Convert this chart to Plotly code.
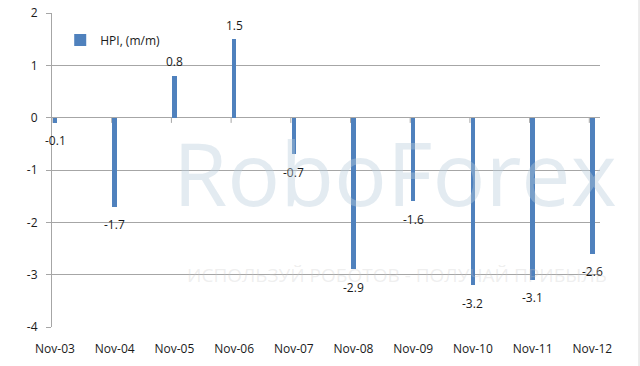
import plotly.graph_objects as go

categories = ["Nov-03", "Nov-04", "Nov-05", "Nov-06", "Nov-07",
              "Nov-08", "Nov-09", "Nov-10", "Nov-11", "Nov-12"]
hpi_values = [-0.1, -1.7, 0.8, 1.5, -0.7, -2.9, -1.6, -3.2, -3.1, -2.6]
y_ticks = [2, 1, 0, -1, -2, -3, -4]

idx = list(range(len(categories)))
BLUE = "#4F81BD"
GRID = "#A6A6A6"
FONT = "Open Sans, Liberation Sans, sans-serif"

fig = go.Figure()
fig.add_trace(go.Bar(
    x=idx, y=hpi_values, name="HPI, (m/m)",
    marker=dict(color=BLUE, line=dict(width=0)),
    width=0.075,
))

# data labels
for i, v in zip(idx, hpi_values):
    fig.add_annotation(
        x=i, y=v, text=f"{v:g}", showarrow=False,
        yshift=14 if v > 0 else -18,
        font=dict(family=FONT, size=12, color="#1a1a1a"),
    )

# x-axis tick marks on the zero line (between categories)
for i in idx:
    fig.add_shape(type="line", xref="x", yref="y",
                  x0=i - 0.05, x1=i - 0.05, y0=0, y1=-0.1,
                  line=dict(color=GRID, width=1), layer="below")

# watermark text
fig.add_annotation(xref="paper", yref="paper", x=0.626, y=0.69,
                   text="RoboForex", showarrow=False,
                   font=dict(family=FONT, size=88, color="rgba(185,205,220,0.4)"))
fig.add_annotation(xref="paper", yref="paper", x=0.63, y=0.118,
                   text="ИСПОЛЬЗУЙ РОБОТОВ - ПОЛУЧАЙ ПРИБЫЛЬ", showarrow=False,
                   font=dict(family=FONT, size=19, color="rgba(200,200,200,0.3)"))

# outer frame on the right
fig.add_shape(type="line", xref="paper", yref="paper",
              x0=1.0712, x1=1.0712, y0=-0.2, y1=1.05,
              line=dict(color="#D9D9D9", width=1))

fig.update_layout(
    template="none",
    width=640, height=366,
    margin=dict(l=52, r=40, t=13, b=39, autoexpand=False),
    paper_bgcolor="white", plot_bgcolor="white",
    font=dict(family=FONT, size=12, color="#1a1a1a"),
    showlegend=True,
    hovermode=False,
    legend=dict(x=0.015, y=0.914, xanchor="left", yanchor="middle",
                bgcolor="rgba(0,0,0,0)", font=dict(size=12),
                itemwidth=30),
    bargap=0,
)
fig.update_xaxes(
    range=[-0.0503, 9.129], automargin=False,
    tickmode="array", tickvals=idx, ticktext=categories,
    showgrid=False, zeroline=False, showline=False,
    ticks="outside", ticklen=11, tickcolor="rgba(0,0,0,0)",
    tickfont=dict(size=12),
)
fig.update_yaxes(
    range=[-4, 2], automargin=False, tickmode="array", tickvals=y_ticks,
    ticktext=[str(t) for t in y_ticks],
    showgrid=True, gridcolor=GRID, gridwidth=1,
    zeroline=True, zerolinecolor=GRID, zerolinewidth=1,
    showline=True, linecolor=GRID, linewidth=1,
    ticks="outside", ticklen=5, tickcolor=GRID, ticklabelstandoff=6,
    tickfont=dict(size=12),
)

fig.write_html("out.html",
               config={"displayModeBar": False},
               post_script="document.body.style.margin='0px';")
